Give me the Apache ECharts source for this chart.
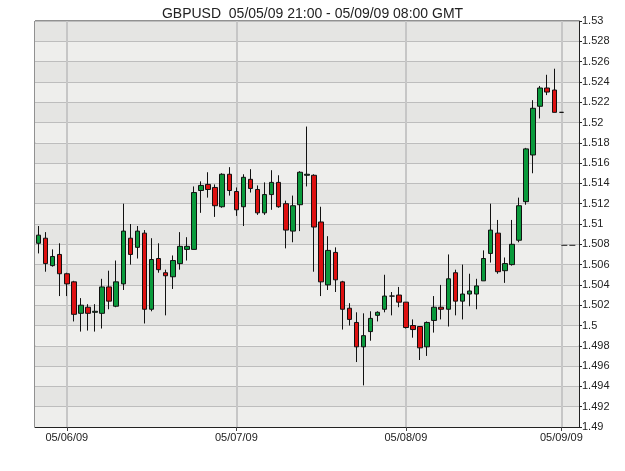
<!DOCTYPE html>
<html>
<head>
<meta charset="utf-8">
<script src="https://cdn.jsdelivr.net/npm/echarts@6/dist/echarts.min.js"></script>
<style>
  html, body { margin: 0; padding: 0; background: #fff; }
  #chart { width: 625px; height: 471px; }
</style>
</head>
<body>
<div id="chart"></div>
<script>
// hourly candles, GBPUSD
var opens = [
  1.5081, 1.5086, 1.5059, 1.5070, 1.5051, 1.5043, 1.5012, 1.5018, 1.5013, 1.5012,
  1.5038, 1.5019, 1.5041, 1.5086, 1.5077, 1.5091, 1.5016, 1.5066, 1.5052, 1.5048,
  1.5061, 1.5075, 1.5075, 1.5133, 1.5139, 1.5136, 1.5117, 1.5149, 1.5132, 1.5117,
  1.5144, 1.5134, 1.5111, 1.5129, 1.5141, 1.5120, 1.5093, 1.5119, 1.5148, 1.5148,
  1.5102, 1.5040, 1.5072, 1.5043, 1.5017, 1.5003, 1.4979, 1.4994, 1.5010, 1.5016,
  1.5029, 1.5030, 1.5023, 1.5000, 1.4999, 1.4979, 1.5005, 1.5018, 1.5016, 1.5052,
  1.5024, 1.5031, 1.5031, 1.5044, 1.5071, 1.5091, 1.5054, 1.5060, 1.5084, 1.5122,
  1.5168, 1.5216, 1.5234, 1.5232, 1.5210
];
var closes = [
  1.5089, 1.5061, 1.5068, 1.5051, 1.5041, 1.5011, 1.5020, 1.5012, 1.5014, 1.5038,
  1.5024, 1.5043, 1.5093, 1.5070, 1.5093, 1.5016, 1.5065, 1.5055, 1.5049, 1.5064,
  1.5078, 1.5078, 1.5131, 1.5138, 1.5134, 1.5118, 1.5149, 1.5133, 1.5114, 1.5146,
  1.5135, 1.5111, 1.5129, 1.5141, 1.5117, 1.5094, 1.5118, 1.5151, 1.5149, 1.5097,
  1.5043, 1.5074, 1.5045, 1.5016, 1.5006, 1.4979, 1.4990, 1.5007, 1.5013, 1.5029,
  1.5029, 1.5023, 1.4998, 1.4996, 1.4978, 1.5003, 1.5018, 1.5016, 1.5046, 1.5024,
  1.5031, 1.5034, 1.5039, 1.5066, 1.5094, 1.5053, 1.5061, 1.5080, 1.5118, 1.5174,
  1.5214, 1.5234, 1.5230, 1.5210, 1.5210
];
var lows = [
  1.5071, 1.5053, 1.5058, 1.5029, 1.5029, 1.5004, 1.4994, 1.4995, 1.4994, 1.4997,
  1.5016, 1.5018, 1.5035, 1.5060, 1.5066, 1.5002, 1.5014, 1.5052, 1.5010, 1.5036,
  1.5055, 1.5064, 1.5075, 1.5111, 1.5126, 1.5107, 1.5116, 1.5128, 1.5108, 1.5098,
  1.5131, 1.5109, 1.5109, 1.5114, 1.5116, 1.5076, 1.5082, 1.5093, 1.5137, 1.5053,
  1.5029, 1.5035, 1.5033, 1.4996, 1.5000, 1.4964, 1.4941, 1.4985, 1.5004, 1.5013,
  1.5010, 1.5018, 1.4997, 1.4988, 1.4966, 1.4970, 1.4993, 1.5006, 1.4999, 1.5010,
  1.5006, 1.5019, 1.5016, 1.5044, 1.5062, 1.5051, 1.5042, 1.5059, 1.5082, 1.5119,
  1.5150, 1.5204, 1.5227, 1.5210, 1.5210
];
var highs = [
  1.5098, 1.5092, 1.5075, 1.5081, 1.5052, 1.5044, 1.5027, 1.5021, 1.5021, 1.5046,
  1.5054, 1.5064, 1.5120, 1.5100, 1.5098, 1.5094, 1.5086, 1.5081, 1.5055, 1.5069,
  1.5092, 1.5087, 1.5137, 1.5142, 1.5151, 1.5139, 1.5150, 1.5156, 1.5136, 1.5149,
  1.5154, 1.5138, 1.5141, 1.5153, 1.5148, 1.5123, 1.5128, 1.5152, 1.5196, 1.5149,
  1.5117, 1.5088, 1.5077, 1.5044, 1.5022, 1.5013, 1.5012, 1.5014, 1.5014, 1.5050,
  1.5033, 1.5038, 1.5023, 1.5006, 1.4999, 1.5004, 1.5029, 1.5040, 1.5070, 1.5055,
  1.5060, 1.5051, 1.5046, 1.5074, 1.5120, 1.5104, 1.5067, 1.5104, 1.5126, 1.5175,
  1.5222, 1.5236, 1.5247, 1.5253, 1.5210
];
// level marker drawn at the right edge
var markerLevel = 1.5079;

var dayLabels = ['05/06/09', '05/07/09', '05/08/09', '05/09/09'];
var dayIndex = [4, 28, 52, 74];
var totalSlots = 77;

var categories = [];
for (var i = 0; i < totalSlots; i++) {
  var k = dayIndex.indexOf(i);
  categories.push(k >= 0 ? dayLabels[k] : 'h' + i);
}

var candles = [];
for (var i = 0; i < opens.length; i++) {
  candles.push([opens[i], closes[i], lows[i], highs[i]]);
}
var markerData = [];
for (var i = 0; i < totalSlots; i++) {
  markerData.push(i >= 74 ? markerLevel : null);
}

var isDay = function (idx) { return dayIndex.indexOf(idx) >= 0; };

var myChart = echarts.init(document.getElementById('chart'));
var option = {
  animation: false,
  backgroundColor: '#ffffff',
  title: {
    text: 'GBPUSD  05/05/09 21:00 - 05/09/09 08:00 GMT',
    left: 'center',
    top: 2,
    textStyle: {
      fontFamily: 'Liberation Sans',
      fontSize: 14,
      fontWeight: 'normal',
      color: '#222'
    }
  },
  grid: {
    left: 35,
    right: 46,
    top: 21,
    bottom: 44,
    show: true,
    borderColor: '#222',
    borderWidth: 1
  },
  xAxis: {
    type: 'category',
    data: categories,
    boundaryGap: true,
    axisLine: { lineStyle: { color: '#222', width: 1 } },
    axisTick: {
      show: true,
      alignWithLabel: true,
      length: 4,
      interval: function (idx) { return isDay(idx); },
      lineStyle: { color: '#444' }
    },
    axisLabel: {
      interval: function (idx) { return isDay(idx); },
      fontFamily: 'Liberation Sans',
      fontSize: 11,
      color: '#222',
      margin: 5
    },
    splitLine: { show: false }
  },
  yAxis: {
    type: 'value',
    position: 'right',
    min: 1.49,
    max: 1.53,
    interval: 0.002,
    axisLine: { show: true, lineStyle: { color: '#222' } },
    axisTick: { show: true, length: 3, lineStyle: { color: '#222' } },
    axisLabel: {
      fontFamily: 'Liberation Sans',
      fontSize: 11,
      color: '#222',
      margin: 3,
      formatter: function (v) { return String(parseFloat(v.toFixed(3))); }
    },
    splitLine: { show: true, lineStyle: { color: '#bdbdbd', width: 1 } },
    splitArea: { show: true, areaStyle: { color: ['#eeeeec', '#e5e5e3'] } }
  },
  series: [
    {
      type: 'line',
      data: markerData,
      symbol: 'none',
      z: 1,
      lineStyle: { color: '#222', width: 1, type: [6, 2] },
      markLine: {
        z: 1,
        silent: true,
        symbol: ['none', 'none'],
        label: { show: false },
        lineStyle: { color: '#c6c6c6', width: 2, type: 'solid' },
        data: dayLabels.map(function (d) { return { xAxis: d }; })
      }
    },
    {
      type: 'candlestick',
      data: candles,
      z: 3,
      barWidth: 5,
      itemStyle: {
        color: '#0a9a3c',
        color0: '#dd1010',
        borderColor: '#111',
        borderColor0: '#111',
        borderWidth: 1
      }
    }
  ]
};
myChart.setOption(option);
</script>
</body>
</html>
